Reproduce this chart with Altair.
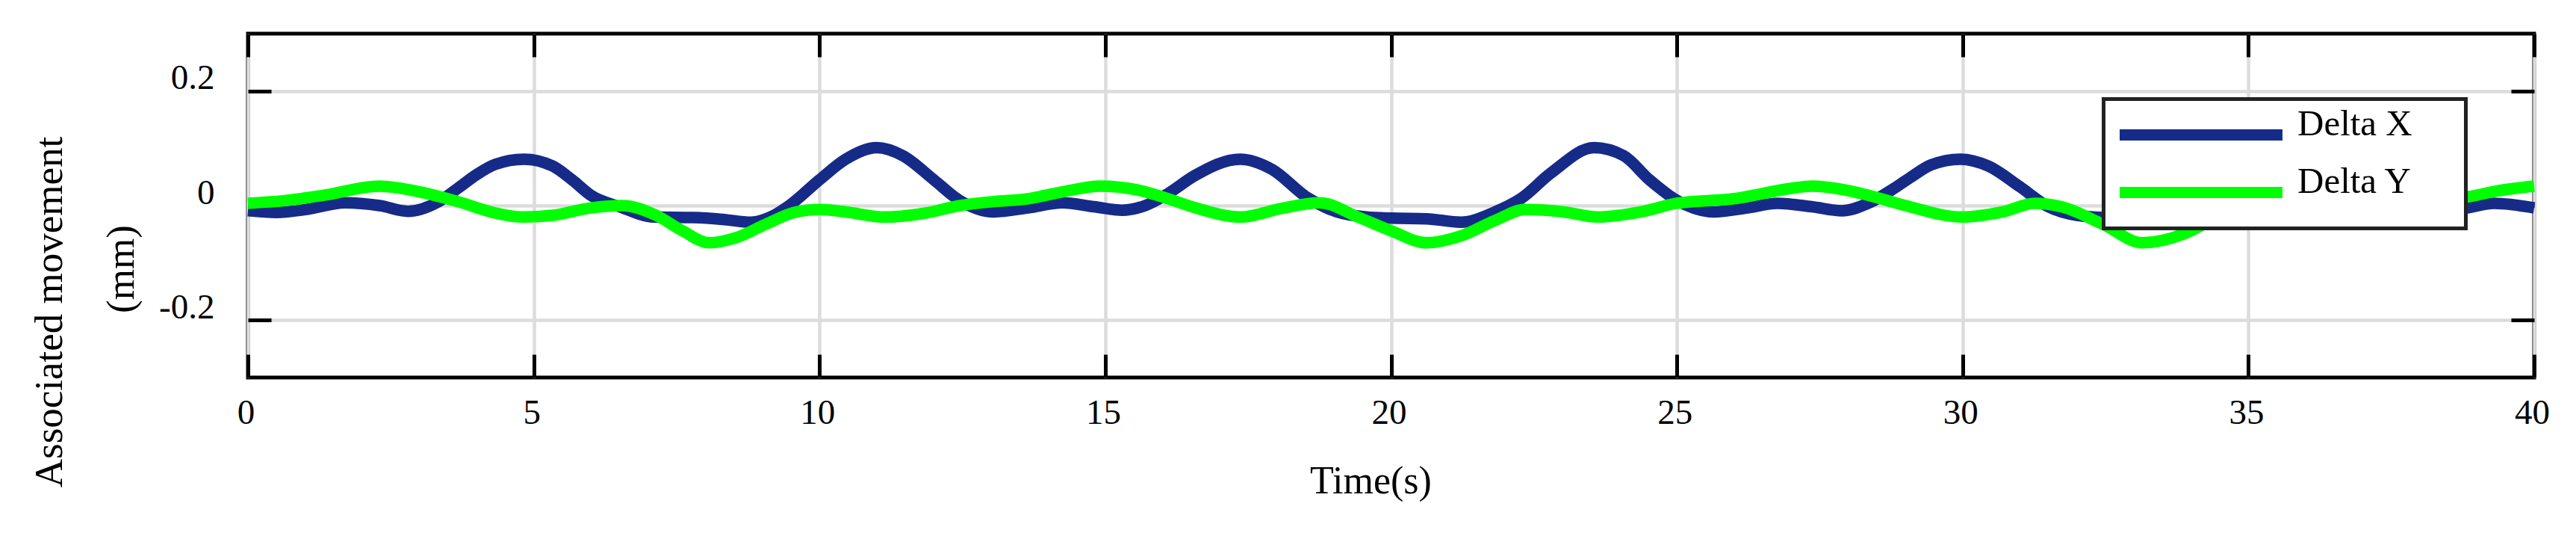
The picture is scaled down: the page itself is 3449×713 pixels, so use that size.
import altair as alt
import pandas as pd

# ---- data ----
time_dx = [0, 0.5, 1.0, 1.7, 2.3, 2.8, 3.33, 3.67, 4.0, 4.33, 4.83, 5.33, 5.67, 6.0, 6.5,
           7.1, 7.8, 8.3, 8.8, 9.14, 9.47, 10.0, 10.46, 11.0, 11.46, 12.0, 12.45, 13.05,
           13.65, 14.25, 14.8, 15.3, 15.7, 16.1, 16.56, 17.36, 17.92, 18.52, 19.05, 19.57,
           20.0, 20.62, 21.22, 21.82, 22.27, 22.8, 23.55, 24.07, 24.52, 25.0, 25.64, 26.24,
           26.76, 27.36, 27.89, 28.35, 28.8, 29.1, 29.45, 29.96, 30.45, 31.0, 31.5, 32.0,
           32.5, 33.1, 33.8, 34.4, 34.8, 35.35, 36.1, 36.6, 37.05, 37.55, 38.2, 38.82, 39.3, 40.0]
delta_x = [-0.009, -0.012, -0.007, 0.005, 0.0, -0.010, 0.0065, 0.030, 0.054, 0.072, 0.081,
           0.069, 0.045, 0.018, -0.002, -0.020, -0.021, -0.024, -0.029, -0.020, 0.0, 0.045,
           0.081, 0.101, 0.087, 0.045, 0.009, -0.011, -0.004, 0.005, -0.002, -0.008, 0.0,
           0.021, 0.052, 0.081, 0.063, 0.015, -0.011, -0.020, -0.022, -0.023, -0.029, -0.011,
           0.012, 0.057, 0.101, 0.087, 0.045, 0.009, -0.011, -0.004, 0.004, -0.002, -0.009,
           0.004, 0.030, 0.050, 0.071, 0.081, 0.069, 0.033, -0.002, -0.017, -0.021, -0.022,
           -0.029, -0.011, 0.012, 0.057, 0.101, 0.087, 0.045, 0.009, -0.011, -0.004, 0.004, -0.004]

time_dy = [0, 0.67, 1.33, 2.3, 3.0, 3.67, 4.33, 4.8, 5.33, 6.0, 6.55, 7.14, 7.6, 8.07, 8.54,
           9.07, 9.6, 10.0, 10.46, 11.13, 11.8, 12.46, 13.05, 13.65, 14.25, 14.91, 15.58, 16.1,
           16.58, 17.37, 18.08, 18.75, 19.42, 20.0, 20.62, 21.22, 21.82, 22.34, 23.02, 23.62,
           24.37, 25.0, 26.0, 27.0, 27.36, 27.96, 28.35, 29.0, 30.0, 30.7, 31.26, 31.73, 32.44,
           33.15, 33.86, 34.4, 34.9, 35.6, 36.2, 36.9, 37.55, 38.3, 38.82, 39.37, 40.0]
delta_y = [0.004, 0.009, 0.018, 0.034, 0.024, 0.007, -0.013, -0.020, -0.017, -0.004, 0.0,
           -0.017, -0.044, -0.065, -0.056, -0.032, -0.011, -0.007, -0.011, -0.020, -0.014,
           0.0, 0.007, 0.012, 0.024, 0.034, 0.027, 0.012, -0.004, -0.020, -0.005, 0.005,
           -0.020, -0.044, -0.065, -0.053, -0.026, -0.007, -0.011, -0.020, -0.011, 0.004,
           0.012, 0.030, 0.034, 0.027, 0.018, 0.0, -0.020, -0.011, 0.004, -0.002, -0.032,
           -0.065, -0.050, -0.024, -0.007, -0.011, -0.020, -0.011, 0.004, 0.011, 0.015, 0.026, 0.034]

series_names = ["Delta X", "Delta Y"]
series_colors = ["#162B88", "#00FF00"]
x_ticks = [0, 5, 10, 15, 20, 25, 30, 35, 40]
y_ticks = [-0.2, 0, 0.2]
x_title = "Time(s)"
y_title = "Associated movement"
y_unit = "(mm)"

df = pd.concat([
    pd.DataFrame({"t": time_dx, "v": delta_x, "s": series_names[0]}),
    pd.DataFrame({"t": time_dy, "v": delta_y, "s": series_names[1]}),
], ignore_index=True)

FONT = "Liberation Serif"
W, H = 3061, 460

xscale = alt.Scale(domain=[0, 40], nice=False, zero=False)
yscale = alt.Scale(domain=[-0.3, 0.3], nice=False, zero=False)

y_label_expr = ("datum.value < 0 ? '-' + format(abs(datum.value), '.1f') : "
                "(datum.value == 0 ? '0' : format(datum.value, '.1f'))")
# trailing non-breaking spaces (kept from trimming by a zero-width space) widen the legend box
legend_label_expr = "datum.label + '" + "\u00a0" * 5 + "\u200b'"

main = alt.Chart(df).mark_line(strokeWidth=15.5, interpolate="monotone").encode(
    x=alt.X("t:Q", scale=xscale, axis=alt.Axis(
        orient="bottom", values=x_ticks, format="d", grid=True, ticks=False, tickSize=0,
        domain=False, labelFont=FONT, labelFontSize=47, labelColor="black",
        labelBaseline="top", labelPadding=24, labelOffset=-3, labelFlush=False,
        title=x_title, titleFont=FONT, titleFontSize=52, titleFontWeight="normal",
        titleColor="black", titleX=1503, titleY=154, titleBaseline="alphabetic",
        titleAlign="center")),
    y=alt.Y("v:Q", scale=yscale, axis=alt.Axis(
        orient="left", values=y_ticks, labelExpr=y_label_expr, grid=True, ticks=False,
        tickSize=0, domain=False, labelFont=FONT, labelFontSize=47, labelColor="black",
        labelBaseline="alphabetic", labelAlign="right", labelPadding=45, labelOffset=-3,
        labelFlush=False,
        title=y_title, titleFont=FONT, titleFontSize=53, titleFontWeight="normal",
        titleColor="black", titleX=-250, titleY=372, titleAngle=270,
        titleBaseline="alphabetic", titleAlign="center")),
    color=alt.Color("s:N", scale=alt.Scale(domain=series_names, range=series_colors),
                    legend=alt.Legend(
                        title=None, orient="none", legendX=2484.5, legendY=87.5,
                        symbolType="stroke", symbolSize=47524, symbolStrokeWidth=15,
                        symbolOffset=4, labelOffset=12.5, labelFont=FONT,
                        labelFontSize=49, labelColor="black", labelBaseline="alphabetic",
                        labelLimit=1000, labelExpr=legend_label_expr,
                        clipHeight=76, rowPadding=0, padding=10,
                        strokeColor="#222222", fillColor="white")),
)

tick_style = dict(labels=False, grid=False, domain=False, ticks=True, tickSize=31,
                  tickWidth=5, tickColor="black", title=None)

ticks_a = alt.Chart(df).mark_line(strokeOpacity=0).encode(
    x=alt.X("t:Q", scale=xscale, axis=alt.Axis(orient="top", offset=-H, values=x_ticks, **tick_style)),
    y=alt.Y("v:Q", scale=yscale, axis=alt.Axis(orient="right", offset=-W, values=y_ticks, **tick_style)),
)
ticks_b = alt.Chart(df).mark_line(strokeOpacity=0).encode(
    x=alt.X("t:Q", scale=xscale, axis=alt.Axis(orient="bottom", offset=-H, values=x_ticks, **tick_style)),
    y=alt.Y("v:Q", scale=yscale, axis=alt.Axis(orient="left", offset=-W, values=y_ticks, **tick_style)),
)

unit_text = alt.Chart(pd.DataFrame({"u": [y_unit]})).mark_text(
    font=FONT, fontSize=53, angle=270, baseline="alphabetic", align="center", color="black"
).encode(text="u:N", x=alt.value(-153), y=alt.value(315))

chart = alt.layer(main, ticks_a, ticks_b, unit_text).resolve_axis(
    x="independent", y="independent"
).properties(
    width=W, height=H,
    autosize=alt.AutoSizeParams(type="none"),
    padding={"left": 324, "top": 37, "right": 40, "bottom": 190},
    background="white",
).configure_view(
    stroke="black", strokeWidth=5
).configure_axis(
    gridColor="#DCDCDC", gridWidth=4.5, gridOpacity=1
).configure_legend(
    strokeWidth=5
)

chart.save("out.html", embed_options={"renderer": "svg", "actions": False})
